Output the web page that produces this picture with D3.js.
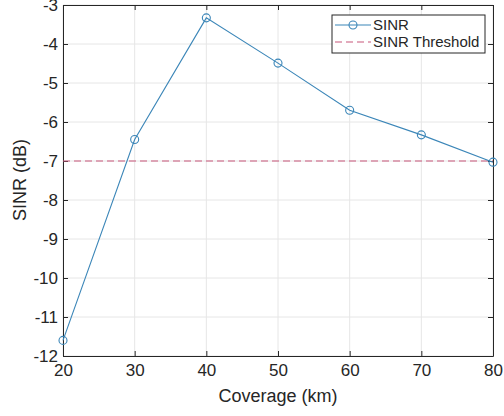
<!DOCTYPE html>
<html>
<head>
<meta charset="utf-8">
<script src="https://cdn.jsdelivr.net/npm/d3@7"></script>
<style>
  body { margin: 0; background: #fff; }
  svg { font-family: "Liberation Sans", Arial, sans-serif; }
</style>
</head>
<body>
<div id="chart"></div>
<script>
// Chart data
const coverage = [20, 30, 40, 50, 60, 70, 80]
const sinr = [-11.6, -6.45, -3.33, -4.49, -5.7, -6.33, -7.03]
const threshold = -7
const xTicks = [20, 30, 40, 50, 60, 70, 80]
const yTicks = [-12, -11, -10, -9, -8, -7, -6, -5, -4, -3]

const width = 504
const height = 416
const margin = { top: 5, right: 11, bottom: 60, left: 63 }
const innerW = width - margin.left - margin.right
const innerH = height - margin.top - margin.bottom

const svg = d3.select('#chart')
  .append('svg')
  .attr('width', width)
  .attr('height', height)

const g = svg.append('g')
  .attr('transform', `translate(${margin.left}, ${margin.top})`)

const x = d3.scaleLinear().domain([20, 80]).range([0, innerW])
const y = d3.scaleLinear().domain([-12, -3]).range([innerH, 0])

// Grid
g.selectAll('.gx').data(xTicks).enter().append('line')
  .attr('x1', d => x(d)).attr('x2', d => x(d))
  .attr('y1', 0).attr('y2', innerH)
  .attr('stroke', '#e6e6e6')
g.selectAll('.gy').data(yTicks).enter().append('line')
  .attr('y1', d => y(d)).attr('y2', d => y(d))
  .attr('x1', 0).attr('x2', innerW)
  .attr('stroke', '#e6e6e6')

// Axes (ticks inside, like MATLAB)
const xAxis = g.append('g')
  .attr('transform', `translate(0, ${innerH})`)
  .call(d3.axisBottom(x).tickValues(xTicks).tickSizeInner(-5).tickSizeOuter(0).tickPadding(8))
const xAxisTop = g.append('g')
  .call(d3.axisTop(x).tickValues(xTicks).tickSizeInner(-5).tickSizeOuter(0).tickFormat(''))
const yAxis = g.append('g')
  .call(d3.axisLeft(y).tickValues(yTicks).tickSizeInner(-5).tickSizeOuter(0).tickPadding(5)
    .tickFormat(d => d3.format('d')(d).replace('−', '-')))
const yAxisRight = g.append('g')
  .attr('transform', `translate(${innerW}, 0)`)
  .call(d3.axisRight(y).tickValues(yTicks).tickSizeInner(-5).tickSizeOuter(0).tickFormat(''))

;[xAxis, xAxisTop, yAxis, yAxisRight].forEach(a => {
  a.select('.domain').attr('stroke', '#262626').attr('stroke-width', 1)
  a.selectAll('.tick line').attr('stroke', '#262626')
  a.selectAll('text').attr('font-size', 17).attr('fill', '#262626')
    .attr('font-family', '"Liberation Sans", Arial, sans-serif')
})

// Threshold line
g.append('line')
  .attr('x1', x(20)).attr('x2', x(80))
  .attr('y1', y(threshold)).attr('y2', y(threshold))
  .attr('stroke', '#c8577a')
  .attr('stroke-width', 1.2)
  .attr('stroke-dasharray', '7,4')

// SINR line
const line = d3.line().x((d, i) => x(coverage[i])).y(d => y(d))
g.append('path')
  .datum(sinr)
  .attr('d', line)
  .attr('fill', 'none')
  .attr('stroke', '#3b86b8')
  .attr('stroke-width', 1.1)

g.selectAll('.pt').data(sinr).enter().append('circle')
  .attr('cx', (d, i) => x(coverage[i]))
  .attr('cy', d => y(d))
  .attr('r', 4)
  .attr('fill', 'none')
  .attr('stroke', '#3b86b8')
  .attr('stroke-width', 1.1)

// Axis labels
svg.append('text')
  .text('Coverage (km)')
  .attr('x', margin.left + innerW / 2)
  .attr('y', 402)
  .attr('text-anchor', 'middle')
  .attr('font-size', 18)
  .attr('fill', '#262626')

svg.append('text')
  .text('SINR (dB)')
  .attr('transform', `translate(26, 180) rotate(-90)`)
  .attr('text-anchor', 'middle')
  .attr('font-size', 18)
  .attr('fill', '#262626')

// Legend
const legend = svg.append('g').attr('transform', 'translate(332, 15)')
legend.append('rect')
  .attr('width', 153).attr('height', 38)
  .attr('fill', '#fff').attr('stroke', '#262626').attr('stroke-width', 1)
legend.append('line')
  .attr('x1', 3).attr('x2', 39).attr('y1', 10).attr('y2', 10)
  .attr('stroke', '#3b86b8').attr('stroke-width', 1.1)
legend.append('circle')
  .attr('cx', 21).attr('cy', 10).attr('r', 4)
  .attr('fill', 'none').attr('stroke', '#3b86b8').attr('stroke-width', 1.1)
legend.append('text').text('SINR')
  .attr('x', 41).attr('y', 15).attr('font-size', 15).attr('fill', '#262626')
legend.append('line')
  .attr('x1', 3).attr('x2', 39).attr('y1', 27).attr('y2', 27)
  .attr('stroke', '#c8577a').attr('stroke-width', 1.2).attr('stroke-dasharray', '7,4')
legend.append('text').text('SINR Threshold')
  .attr('x', 41).attr('y', 32).attr('font-size', 15).attr('fill', '#262626')
</script>
</body>
</html>
